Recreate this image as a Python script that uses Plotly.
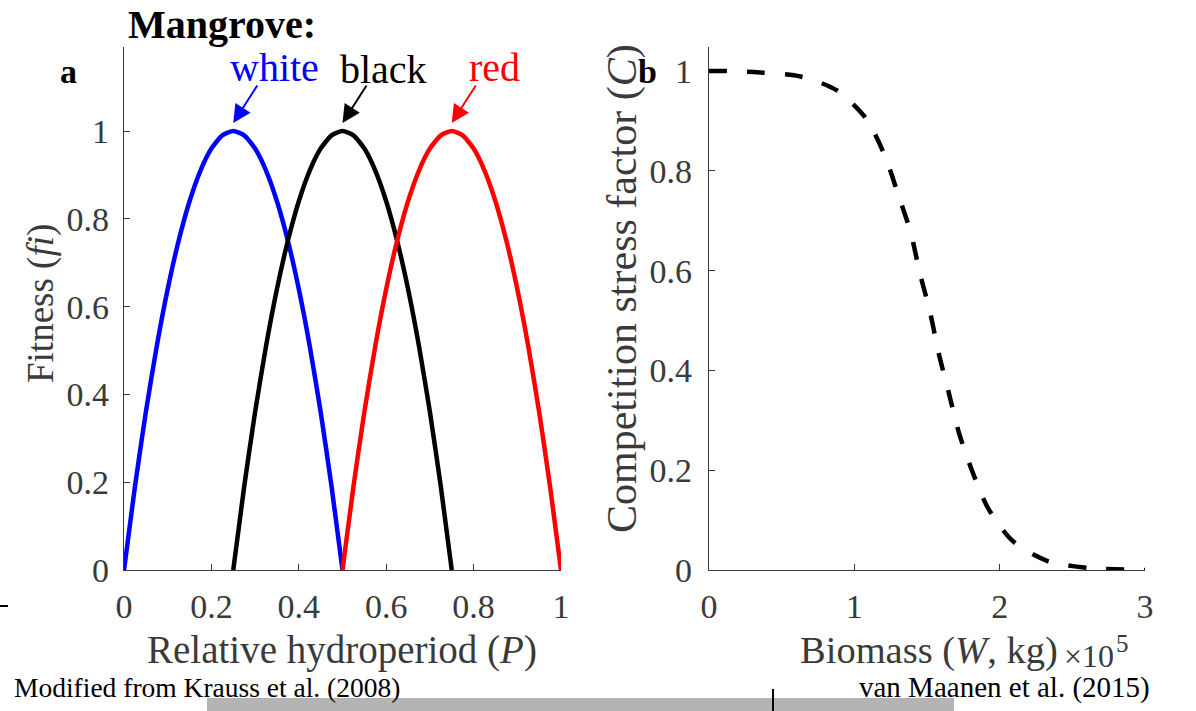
import plotly.graph_objects as go

W_PX, H_PX = 1196, 711

# ---------------- data ----------------
# Panel a: fitness curves vs relative hydroperiod
white_P = [0.0, 0.025, 0.05, 0.075, 0.1, 0.125, 0.15, 0.175, 0.2, 0.225, 0.25,
           0.275, 0.3, 0.325, 0.35, 0.375, 0.4, 0.425, 0.45, 0.475, 0.5]
white_f = [0.0, 0.19, 0.36, 0.51, 0.64, 0.75, 0.84, 0.91, 0.96, 0.99, 1.0,
           0.99, 0.96, 0.91, 0.84, 0.75, 0.64, 0.51, 0.36, 0.19, 0.0]
black_P = [0.25, 0.275, 0.3, 0.325, 0.35, 0.375, 0.4, 0.425, 0.45, 0.475, 0.5,
           0.525, 0.55, 0.575, 0.6, 0.625, 0.65, 0.675, 0.7, 0.725, 0.75]
black_f = [0.0, 0.19, 0.36, 0.51, 0.64, 0.75, 0.84, 0.91, 0.96, 0.99, 1.0,
           0.99, 0.96, 0.91, 0.84, 0.75, 0.64, 0.51, 0.36, 0.19, 0.0]
red_P = [0.5, 0.525, 0.55, 0.575, 0.6, 0.625, 0.65, 0.675, 0.7, 0.725, 0.75,
         0.775, 0.8, 0.825, 0.85, 0.875, 0.9, 0.925, 0.95, 0.975, 1.0]
red_f = [0.0, 0.19, 0.36, 0.51, 0.64, 0.75, 0.84, 0.91, 0.96, 0.99, 1.0,
         0.99, 0.96, 0.91, 0.84, 0.75, 0.64, 0.51, 0.36, 0.19, 0.0]

# Panel b: competition stress factor vs biomass (x 1e5 kg)
biomass_W = [0.0, 0.09, 0.35, 0.63, 0.88, 1.08, 1.21, 1.30, 1.39, 1.45, 1.52,
             1.58, 1.65, 1.72, 1.81, 1.92, 2.09, 2.33, 2.61, 2.88, 3.0]
comp_C = [1.0, 1.0, 0.997, 0.989, 0.961, 0.905, 0.83, 0.754, 0.674, 0.596, 0.518,
          0.435, 0.355, 0.275, 0.199, 0.124, 0.058, 0.018, 0.004, 0.001, 0.0]

a_xticks = [0, 0.2, 0.4, 0.6, 0.8, 1]
a_xticklabels = ["0", "0.2", "0.4", "0.6", "0.8", "1"]
a_yticks = [0, 0.2, 0.4, 0.6, 0.8, 1]
a_yticklabels = ["0", "0.2", "0.4", "0.6", "0.8", "1"]
b_xticks = [0, 1, 2, 3]
b_xticklabels = ["0", "1", "2", "3"]
b_yticks = [0, 0.2, 0.4, 0.6, 0.8, 1]
b_yticklabels = ["0", "0.2", "0.4", "0.6", "0.8", "1"]

species = ["white", "black", "red"]
species_colors = ["#0000ff", "#000000", "#ff0000"]
species_peak_P = [0.25, 0.5, 0.75]

# ---------------- layout helpers ----------------
def px_x(x):
    return x / W_PX

def px_y(y):
    return 1 - y / H_PX

FONT = "Liberation Serif, Times New Roman, serif"
TICK_COLOR = "#3a3a3a"

# plot area pixel geometry
A_L, A_R = 124, 561
B_L, B_R = 709, 1145
TOP, BOT = 47, 570
A_UNIT = 439.0   # px per fitness unit
B_UNIT = 499.0   # px per C unit

fig = go.Figure()

for name, P, f, col in [("white", white_P, white_f, species_colors[0]),
                        ("black", black_P, black_f, species_colors[1]),
                        ("red", red_P, red_f, species_colors[2])]:
    fig.add_trace(go.Scatter(x=P, y=f, mode="lines", name=name,
                             line=dict(color=col, width=4.5, shape="spline", smoothing=0.6),
                             xaxis="x", yaxis="y", showlegend=False, cliponaxis=False))

fig.add_trace(go.Scatter(x=biomass_W, y=comp_C, mode="lines",
                         line=dict(color="black", width=4.5, dash="18px,20px",
                                   shape="spline", smoothing=0.8),
                         xaxis="x2", yaxis="y2", showlegend=False, cliponaxis=False))

axis_common = dict(showgrid=False, zeroline=False, showline=True, linecolor=TICK_COLOR,
                   linewidth=1.3, ticks="inside", ticklen=6, tickwidth=1.2,
                   tickcolor=TICK_COLOR, automargin=False, layer="below traces",
                   tickfont=dict(family=FONT, size=34, color=TICK_COLOR))

ydom = [px_y(BOT), px_y(TOP)]
fig.update_layout(
    width=W_PX, height=H_PX,
    margin=dict(l=0, r=0, t=0, b=0, pad=0, autoexpand=False),
    paper_bgcolor="white", plot_bgcolor="white",
    xaxis=dict(domain=[px_x(A_L), px_x(A_R)], range=[0, 1], anchor="y",
               tickvals=a_xticks, ticktext=a_xticklabels, ticklabelstandoff=6,
               **axis_common),
    yaxis=dict(domain=ydom, range=[0, (BOT - TOP) / A_UNIT], anchor="x",
               tickvals=a_yticks, ticktext=a_yticklabels, ticklabelstandoff=7,
               **axis_common),
    xaxis2=dict(domain=[px_x(B_L), px_x(B_R)], range=[0, 3], anchor="y2",
                tickvals=b_xticks, ticktext=b_xticklabels, ticklabelstandoff=6,
                **axis_common),
    yaxis2=dict(domain=ydom, range=[0, (BOT - TOP) / B_UNIT], anchor="x2",
                tickvals=b_yticks, ticktext=b_yticklabels, ticklabelstandoff=9,
                **axis_common),
)

ann = []
def text(x, y, t, size, color="black", bold=False, angle=0, xanchor="center", yanchor="middle"):
    ann.append(dict(xref="paper", yref="paper", x=px_x(x), y=px_y(y), text=t,
                    showarrow=False, textangle=angle, xanchor=xanchor, yanchor=yanchor,
                    font=dict(family=FONT, size=size, color=color,
                              weight="bold" if bold else "normal")))

text(222, 25, "Mangrove:", 40, bold=True)
text(68, 72, "a", 34, bold=True)
text(647, 72, "b", 34, bold=True)

label_pos = {"white": (274, 68), "black": (383, 70), "red": (494, 68)}
for sp, col, pk in zip(species, species_colors, species_peak_P):
    lx, ly = label_pos[sp]
    text(lx, ly, sp, 40, color=col)
    # arrow pointing at curve peak
    head_y = (BOT - 123) / A_UNIT
    ann.append(dict(xref="x", yref="y", x=pk, y=head_y, ax=25, ay=-39, text="",
                    showarrow=True, arrowhead=2, arrowsize=1.8, arrowwidth=2,
                    arrowcolor=col, standoff=0))

text(41, 304, "Fitness (<i>fi</i>)", 37, color=TICK_COLOR, angle=-90)
text(342, 650, "Relative hydroperiod (<i>P</i>)", 39, color=TICK_COLOR)
text(622, 289, "Competition stress factor (<i>C</i>)", 42, color=TICK_COLOR, angle=-90)
text(798, 650, "Biomass (<i>W</i>, kg)", 38.5, color=TICK_COLOR, xanchor="left")
text(1062, 656, "×10", 32, color=TICK_COLOR, xanchor="left")
text(1114, 643, "5", 25, color=TICK_COLOR, xanchor="left")
text(12, 687, "Modified from Krauss et al. (2008)", 27.5, xanchor="left")
text(857, 687, "van Maanen et al. (2015)", 29, xanchor="left")

fig.update_layout(annotations=ann)

shapes = [
    dict(type="rect", xref="paper", yref="paper", x0=px_x(207), x1=px_x(954),
         y0=px_y(711), y1=px_y(698), fillcolor="#b4b4b4", line=dict(width=0)),
    dict(type="line", xref="paper", yref="paper", x0=px_x(773), x1=px_x(773),
         y0=px_y(711), y1=px_y(689), line=dict(color="black", width=2)),
    dict(type="line", xref="paper", yref="paper", x0=px_x(0), x1=px_x(8),
         y0=px_y(606), y1=px_y(606), line=dict(color="black", width=2)),
]
fig.update_layout(shapes=shapes)

fig.write_html("out.html")
